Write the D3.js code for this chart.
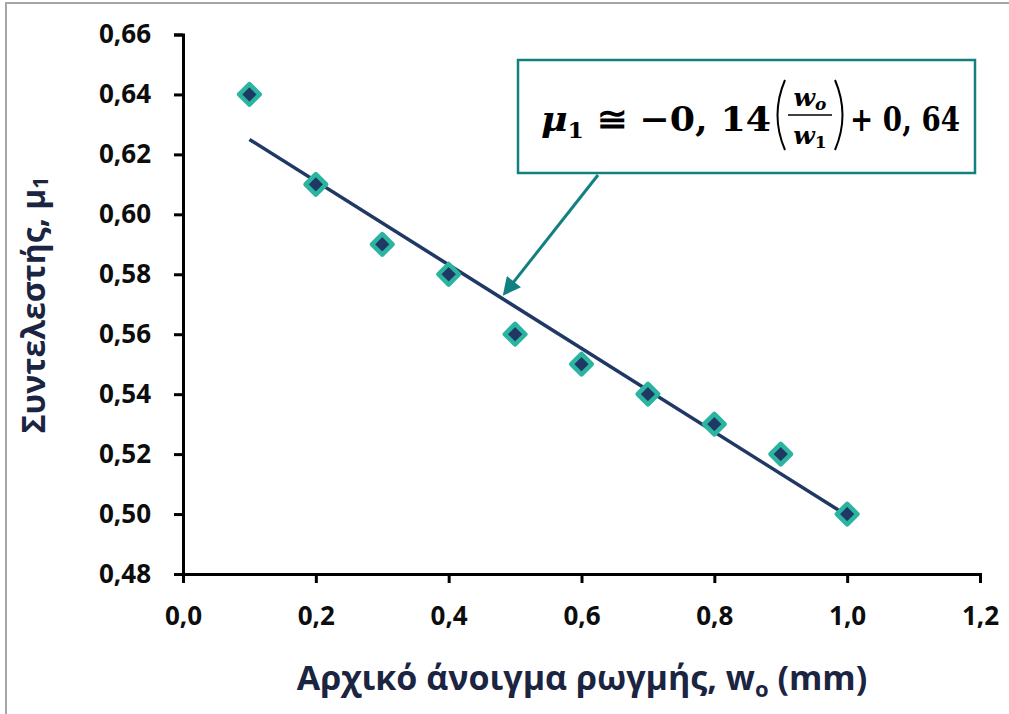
<!DOCTYPE html>
<html><head><meta charset="utf-8">
<script src="https://cdn.jsdelivr.net/npm/d3@7"></script>
<style>body{margin:0;background:#fff;}svg{display:block;}</style>
</head><body>
<svg id="c" width="1009" height="714"></svg>
<script>
const xValues = [0.1,0.2,0.3,0.4,0.5,0.6,0.7,0.8,0.9,1.0];
const yValues = [0.64,0.61,0.59,0.58,0.56,0.55,0.54,0.53,0.52,0.50];
const trendX = [0.1, 1.0];
const trendY = [0.625, 0.4995];
const xTicks = [0,0.2,0.4,0.6,0.8,1.0,1.2];
const yTicks = [0.48,0.50,0.52,0.54,0.56,0.58,0.60,0.62,0.64,0.66];

const svg = d3.select("#c");
const font = "'Open Sans', 'Noto Sans', sans-serif";
const navy = "#1f3864", teal = "#128080", mk = "#2bb5a0";

svg.append("path").attr("d","M6,714 L6,3 L1009,3").attr("fill","none").attr("stroke","#a6a6a6").attr("stroke-width",2);

const x = d3.scaleLinear().domain([0,1.2]).range([183,980]);
const y = d3.scaleLinear().domain([0.48,0.66]).range([574,34.5]);
const fmt = (d,n)=>d.toFixed(n).replace(".",",");

const gx = svg.append("g").attr("transform","translate(0,574)")
  .call(d3.axisBottom(x).tickValues(xTicks).tickSize(9).tickSizeOuter(9).tickFormat(d=>fmt(d,1)).tickPadding(24));
const gy = svg.append("g").attr("transform","translate(183,0)")
  .call(d3.axisLeft(y).tickValues(yTicks).tickSize(9).tickSizeOuter(9).tickFormat(d=>fmt(d,2)).tickPadding(23));
[gx,gy].forEach(g=>{
  g.attr("font-size",null).attr("font-family",null);
  g.select(".domain").attr("stroke","#000").attr("stroke-width",3);
  g.selectAll(".tick line").attr("stroke","#000").attr("stroke-width",3);
  g.selectAll("text").style("font-family",font).style("font-weight","bold").style("font-size","26px").attr("fill","#0d0d0d");
});

svg.append("line").attr("x1",x(trendX[0])).attr("y1",y(trendY[0])).attr("x2",x(trendX[1])).attr("y2",y(trendY[1]))
  .attr("stroke",navy).attr("stroke-width",3.5);

svg.append("g").selectAll("path").data(xValues).join("path")
  .attr("d", d3.symbol().type(d3.symbolDiamond2).size(270)())
  .attr("transform",(d,i)=>`translate(${x(d)},${y(yValues[i])})`)
  .attr("fill",navy).attr("stroke",mk).attr("stroke-width",4.5).attr("stroke-linejoin","round");

svg.append("text").attr("x",582).attr("y",690).attr("text-anchor","middle")
  .style("font-family",font).style("font-weight","bold").style("font-size","34px").attr("fill","#1b2440")
  .html("Αρχικό άνοιγμα ρωγμής, w<tspan style='font-size:22px' dy='7'>ο</tspan><tspan dy='-7'> (mm)</tspan>");
svg.append("text").attr("transform","translate(45,305) rotate(-90)").attr("text-anchor","middle")
  .style("font-family",font).style("font-weight","bold").style("font-size","32px").attr("fill","#1b2440")
  .html("Συντελεστής, μ<tspan style='font-size:21px' dy='3'>1</tspan>");

svg.append("defs").append("marker").attr("id","ah").attr("viewBox","0 0 10 10").attr("refX",8).attr("refY",5)
  .attr("markerWidth",6.5).attr("markerHeight",6).attr("orient","auto").attr("markerUnits","strokeWidth")
  .append("path").attr("d","M0,0 L10,5 L0,10 z").attr("fill",teal);
svg.append("line").attr("x1",598).attr("y1",175).attr("x2",505).attr("y2",293)
  .attr("stroke",teal).attr("stroke-width",3).attr("marker-end","url(#ah)");
svg.append("rect").attr("x",518).attr("y",60).attr("width",457).attr("height",113)
  .attr("fill","#fff").attr("stroke",teal).attr("stroke-width",2.5);

const serif = "'DejaVu Serif', 'Liberation Serif', serif";
const eq = svg.append("g").style("font-family",serif).style("font-weight","bold").attr("fill","#000");
const t1 = eq.append("text").attr("x",541).attr("y",131).style("font-size","34px")
  .attr("textLength",230).attr("lengthAdjust","spacingAndGlyphs");
t1.append("tspan").style("font-style","italic").text("μ");
t1.append("tspan").style("font-size","22px").attr("dy",7).text("1");
t1.append("tspan").attr("dy",-7).text(" ≅ −0, 14");
const fx = 810;
eq.append("text").attr("x",fx).attr("y",106).attr("text-anchor","middle").style("font-size","25px").style("font-style","italic")
  .html("w<tspan style='font-size:17px' dy='4'>o</tspan>");
eq.append("text").attr("x",fx).attr("y",144).attr("text-anchor","middle").style("font-size","25px").style("font-style","italic")
  .html("w<tspan style='font-size:17px;font-style:normal' dy='4'>1</tspan>");
eq.append("line").attr("x1",fx-22).attr("x2",fx+22).attr("y1",115).attr("y2",115).attr("stroke","#000").attr("stroke-width",1.5);
eq.append("path").attr("d",`M${fx-25},80 Q${fx-40},115 ${fx-25},150`).attr("fill","none").attr("stroke","#000").attr("stroke-width",2);
eq.append("path").attr("d",`M${fx+25},80 Q${fx+40},115 ${fx+25},150`).attr("fill","none").attr("stroke","#000").attr("stroke-width",2);
eq.append("text").attr("x",850).attr("y",131).style("font-size","34px")
  .attr("textLength",110).attr("lengthAdjust","spacingAndGlyphs").text("+ 0, 64");
</script>
</body></html>
